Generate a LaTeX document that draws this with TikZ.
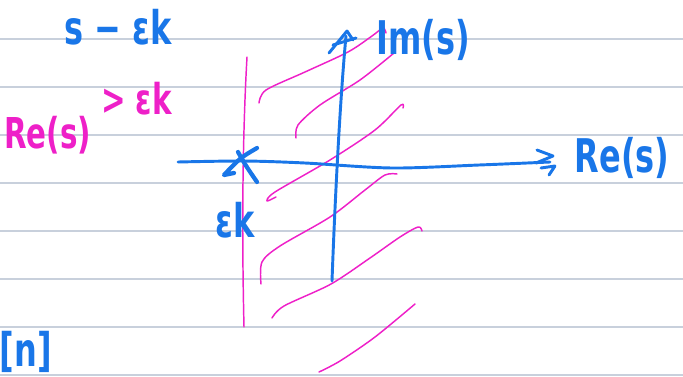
\documentclass[tikz,border=0pt]{standalone}
\usepackage{fontspec}
\setmainfont{DejaVu Sans}
\definecolor{inkblue}{RGB}{25,118,232}
\definecolor{inkpink}{RGB}{238,32,200}
\definecolor{rulegray}{RGB}{200,208,220}
\newcommand{\tallink}[1]{\scalebox{1}[1.45]{#1}}
\begin{document}
\begin{tikzpicture}[x=0.75pt,y=-0.75pt,
 ruleline/.style={draw=rulegray,line width=1.5pt},
 blueaxis/.style={draw=inkblue,line width=2.2pt,line cap=round,line join=round},
 bluemark/.style={draw=inkblue,line width=3.2pt,line cap=round,line join=round},
 pinkstroke/.style={draw=inkpink,line width=1.1pt,line cap=round,line join=round},
 bluelabel/.style={text=inkblue,font=\bfseries\fontsize{24}{28}\selectfont,inner sep=0pt},
 pinklabel/.style={text=inkpink,font=\bfseries\fontsize{22}{26}\selectfont,inner sep=0pt}]
\useasboundingbox (0,0) rectangle (683,376);
% ruled paper
\foreach \y in {39,87,...,375} \draw[ruleline] (0,\y) -- (683,\y);
% pink boundary line
\draw[pinkstroke] (247,57) .. controls (244,110) and (241,200) .. (244,327);
% pink hatching
\draw[pinkstroke] plot[smooth] coordinates {(259,103) (266,90) (305,72) (348,52) (372,36) (383,28) (386,33)};
\draw[pinkstroke] plot[smooth] coordinates {(296,138) (298,125) (320,105) (360,80) (394,53)};
\draw[pinkstroke] plot[smooth] coordinates {(276,197) (267,201) (275,192) (330,160) (375,130) (401,105) (403,108)};
\draw[pinkstroke] plot[smooth] coordinates {(261,284) (262,262) (280,246) (330,217) (365,190) (385,175) (397,174)};
\draw[pinkstroke] plot[smooth] coordinates {(272,318) (284,306) (331,284) (370,258) (400,237) (418,227) (422,231)};
\draw[pinkstroke] plot[smooth] coordinates {(319,372) (340,361) (375,337) (415,304)};
% axes
\coordinate (xstart) at (178,162);
\coordinate (xend) at (550,162);
\coordinate (ystart) at (332,281);
\coordinate (yend) at (346,36);
\draw[blueaxis] plot[smooth] coordinates {(xstart) (244,161) (305,163) (392,168) (479,165) (xend)};
\draw[blueaxis] (ystart) .. controls (335,200) and (340,100) .. (yend);
% arrowhead scribbles
\draw[blueaxis] (537,150) -- (553,156) -- (536,163);
\draw[blueaxis] (541,168) -- (555,166) -- (549,175);
\draw[blueaxis] (329,53) -- (347,31) -- (353,40);
\draw[blueaxis] (333,45) -- (356,38);
% pole cross
\draw[bluemark] (238,152) .. controls (246,166) .. (257,182);
\draw[bluemark] (257,148) .. controls (240,158) .. (224,175) -- (234,173);
% labels
\node[bluelabel] (sek) at (118,27) {\tallink{s − εk}};
\node[bluelabel] (imlab) at (423,40) {\tallink{Im(s)}};
\node[bluelabel] (relab) at (622,158) {\tallink{Re(s)}};
\node[pinklabel] (cond) at (88,118) {\tallink{Re(s)\raisebox{0.8em}{ > εk}}};
\node[bluelabel] (ek) at (235,220) {\tallink{εk}};
\node[bluelabel] (nlab) at (26,352) {\tallink{[n]}};
\end{tikzpicture}
\end{document}
